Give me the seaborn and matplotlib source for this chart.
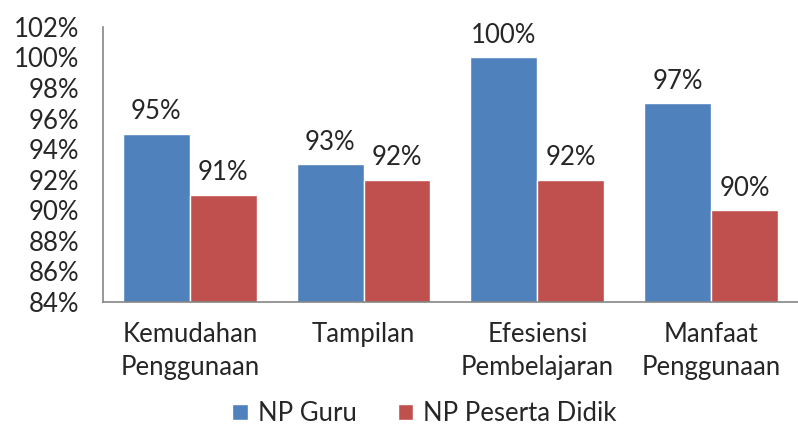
import pandas as pd
import seaborn as sns
from matplotlib import pyplot as plt
from matplotlib.patches import Patch
from matplotlib.ticker import FuncFormatter, MultipleLocator

kategori = ["Kemudahan\nPenggunaan", "Tampilan", "Efesiensi\nPembelajaran", "Manfaat\nPenggunaan"]
np_guru = [95, 93, 100, 97]
np_peserta = [91, 92, 92, 90]
seri = ["NP Guru", "NP Peserta Didik"]
warna = ["#4F81BD", "#C0504D"]

df = pd.DataFrame({
    "kategori": kategori * 2,
    "nilai": np_guru + np_peserta,
    "seri": [seri[0]] * len(kategori) + [seri[1]] * len(kategori),
})

sns.set_style("white")
plt.rcParams["font.family"] = ["Lato", "DejaVu Sans"]
FS = 18.5

fig = plt.figure(figsize=(7.98, 4.34), dpi=100)
ax = fig.add_axes([0.129, 0.304, 0.871, 0.634])

sns.barplot(data=df, x="kategori", y="nilai", hue="seri", palette=warna,
            width=0.77, saturation=1, ax=ax, legend=False)

for cont in ax.containers:
    ax.bar_label(cont, labels=["{:d}%".format(int(v)) for v in cont.datavalues],
                 padding=7, fontsize=FS)

ax.set_ylim(84, 102)
ax.yaxis.set_major_locator(MultipleLocator(2))
ax.yaxis.set_major_formatter(FuncFormatter(lambda v, _: "{:d}%".format(int(round(v)))))
ax.set_xlim(-0.5, 3.5)
ax.tick_params(axis="both", labelsize=FS, length=0)
ax.tick_params(axis="y", pad=17)
ax.tick_params(axis="x", pad=14)
for lbl in ax.get_xticklabels():
    lbl.set_linespacing(1.4)
ax.set_xlabel("")
ax.set_ylabel("")

sns.despine(ax=ax, top=True, right=True)
for side in ["left", "bottom"]:
    ax.spines[side].set_color("#868686")
    ax.spines[side].set_linewidth(1.2)

handles = [Patch(facecolor=c, label=s) for c, s in zip(warna, seri)]
fig.legend(handles=handles, loc="lower center", bbox_to_anchor=(0.532, -0.035), ncol=2,
           frameon=False, fontsize=FS, handlelength=0.6, handleheight=0.6,
           handletextpad=0.4, columnspacing=1.6)

fig.savefig("out.png", dpi=100)
